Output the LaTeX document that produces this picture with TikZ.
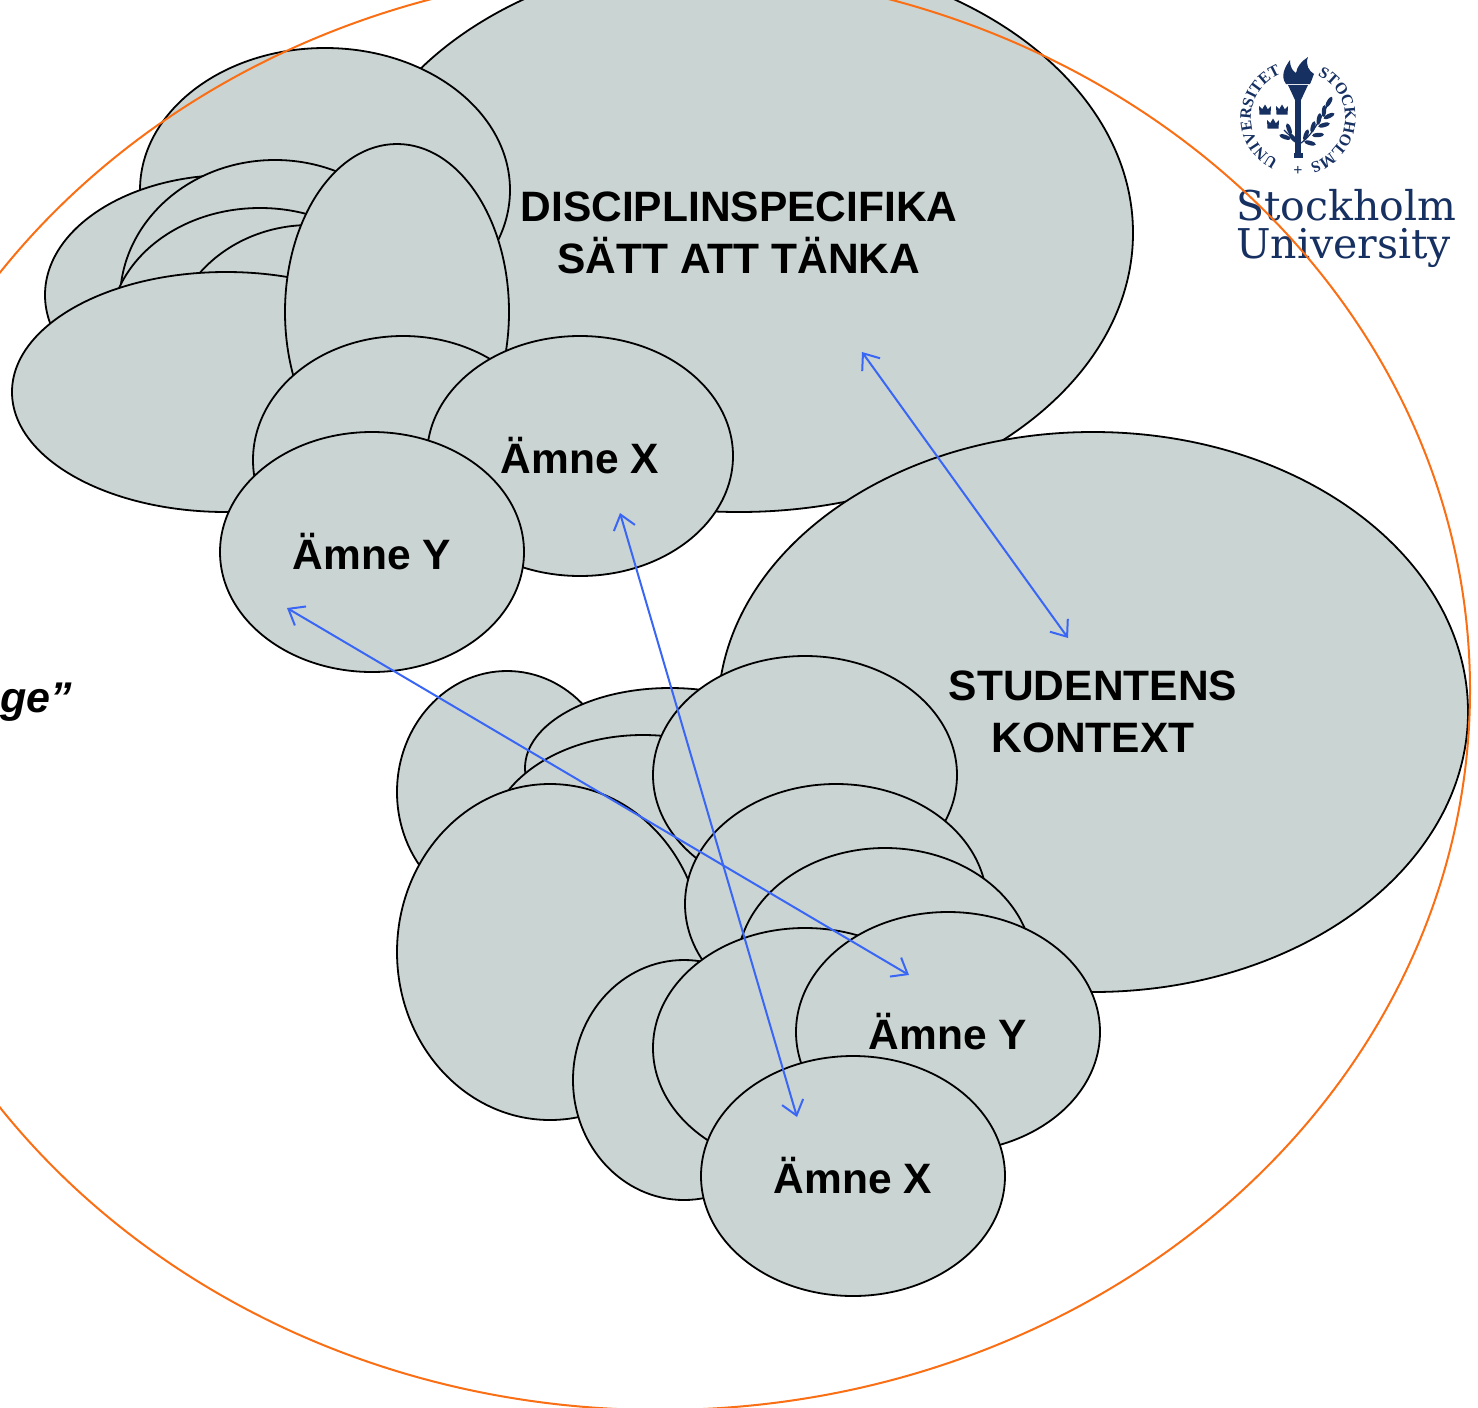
\documentclass[tikz,border=0pt]{standalone}
\usepackage{fontspec}
\setmainfont{Liberation Sans}
\newfontfamily\logofont{DejaVu Serif}
\newfontfamily\sealfont{Liberation Serif}
\usetikzlibrary{shapes.geometric, arrows.meta, decorations.text}
\definecolor{blobfill}{RGB}{202,212,211}
\definecolor{ringorange}{RGB}{250,110,20}
\definecolor{arrowblue}{RGB}{58,102,245}
\definecolor{sunavy}{RGB}{22,48,98}
\begin{document}
\begin{tikzpicture}[x=1pt,y=-1pt,
  blob/.style={ellipse, draw=black, line width=1.8pt, fill=blobfill, inner sep=0pt, align=center,
    font=\bfseries\fontsize{42.5}{52}\selectfont},
  esz/.style 2 args={minimum width=#1pt, minimum height=#2pt},
  link/.style={draw=arrowblue, line width=2pt,
    {Straight Barb[length=14pt,width=22pt]}-{Straight Barb[length=14pt,width=22pt]}},
  ring/.style={ellipse, draw=ringorange, line width=2pt, inner sep=0pt},
  sealtxt/.style={decorate, decoration={text along path, text align=center,
      text={|\sealfont\bfseries\fontsize{16}{16}\selectfont\color{sunavy}|#1}}}]
\clip (0,0) rectangle (1478,1408);
\useasboundingbox (0,0) rectangle (1478,1408);

% ---- upper cluster
\node[blob, esz={788}{558}] (disc) at (739,233) {DISCIPLINSPECIFIKA\\SÄTT ATT TÄNKA};
\node[blob, esz={370}{284}] (ua) at (325,190) {};
\node[blob, esz={370}{240}] (ub) at (230,295) {};
\node[blob, esz={310}{280}] (uc) at (275,300) {};
\node[blob, esz={300}{244}] (ud) at (260,330) {};
\node[blob, esz={280}{250}] (ue) at (310,350) {};
\node[blob, esz={428}{240}] (uf) at (226,392) {};
\node[blob, esz={224}{336}] (ug) at (397,312) {};
\node[blob, esz={300}{248}] (uh) at (403,460) {};
\node[blob, esz={306}{240}] (ux) at (580,456) {Ämne X};
\node[blob, esz={304}{240}] (uy) at (372,552) {Ämne Y};

% ---- lower cluster
\node[blob, esz={220}{242}] (lk) at (507,792) {};
\node[blob, esz={290}{160}] (ll) at (670,768) {};
\node[blob, esz={310}{220}] (lm) at (643,845) {};
\node[blob, esz={306}{336}] (ln) at (550,952) {};
\node[blob, esz={750}{560}] (stud) at (1093,712) {STUDENTENS\\KONTEXT};
\node[blob, esz={304}{238}] (lo) at (805,775) {};
\node[blob, esz={302}{240}] (lp) at (836,904) {};
\node[blob, esz={296}{240}] (lq) at (885,968) {};
\node[blob, esz={222}{240}] (lr) at (684,1080) {};
\node[blob, esz={304}{240}] (ls) at (805,1048) {};
\node[blob, esz={304}{240}] (ly) at (948,1032) {Ämne Y};
\node[blob, esz={304}{240}] (lx) at (853,1176) {Ämne X};

% ---- logo
\begin{scope}[shift={(1298,118)}, y=1pt]
  \path[sealtxt=UNIVERSITET] (252:47) arc[start angle=252, end angle=104, radius=47];
  \path[sealtxt=STOCKHOLMS] (70:47) arc[start angle=70, end angle=-80, radius=47];
  \node[font=\sealfont\bfseries\fontsize{16}{16}\selectfont, text=sunavy, inner sep=0pt] (plus) at (0,-53) {+};
  % flame
  \fill[sunavy] (-12,34) .. controls (-18,42) and (-13,51) .. (-8,58)
    .. controls (-8,50) and (-5,47) .. (-2,45) .. controls (-1,52) and (4,57) .. (10,61)
    .. controls (7,53) and (11,47) .. (16,44) .. controls (14,40) and (14,37) .. (12,34) -- cycle;
  % cup and stem
  \fill[sunavy] (-10,33) -- (10,33) -- (3,18) -- (-3,18) -- cycle;
  \fill[sunavy] (-2.7,18) rectangle (2.7,-36);
  \fill[sunavy] (-4.5,-35) rectangle (4.5,-40);
  % crowns
  \foreach \cx/\cy in {-33/8, -16/8, -25/-6} {
    \fill[sunavy, shift={(\cx,\cy)}] (-5.5,-4.5) -- (5.5,-4.5) -- (6,4) -- (2.8,0.8) -- (0,5.5) -- (-2.8,0.8) -- (-6,4) -- cycle;
  }
  % laurel
  \draw[sunavy, line width=1.2pt] (0,-27) .. controls (12,-20) and (20,-6) .. (30,14);
  \draw[sunavy, line width=1.2pt] (0,-24) .. controls (-6,-20) and (-10,-16) .. (-14,-12);
  \foreach \lx/\ly/\la in {8/-17/70, 12/-25/-15, 15/-9/75, 20/-17/5, 21/-1/80, 26/-7/15, 26/7/85, 31/2/25, 31/16/60, -9/-11/110, -13/-19/160, -5/-20/130} {
    \fill[sunavy, rotate around={\la:(\lx,\ly)}] (\lx,\ly) ellipse [x radius=6, y radius=2.2];
  }
\end{scope}
\node[anchor=base west, inner sep=0pt, font=\logofont\fontsize{41}{41}\selectfont, text=sunavy] (sto) at (1236,220) {Stockholm};
\node[anchor=base west, inner sep=0pt, font=\logofont\fontsize{41}{41}\selectfont, text=sunavy] (uni) at (1236,258) {University};

% ---- orange frame
\node[ring, minimum width=1620pt, minimum height=1440pt] (frame) at (660,690) {};

% ---- partly visible caption
\node[anchor=base west, inner sep=0pt, font=\bfseries\itshape\fontsize{43}{50}\selectfont] (tag) at (0,712) {ge”};

% ---- arrows
\coordinate (p1) at (862,352);
\coordinate (p2) at (1068,638);
\coordinate (p3) at (620,513);
\coordinate (p4) at (797,1117);
\coordinate (p5) at (287,608);
\coordinate (p6) at (909,975);
\draw[link] (p1) -- (p2);
\draw[link] (p3) -- (p4);
\draw[link] (p5) -- (p6);
\end{tikzpicture}
\end{document}
